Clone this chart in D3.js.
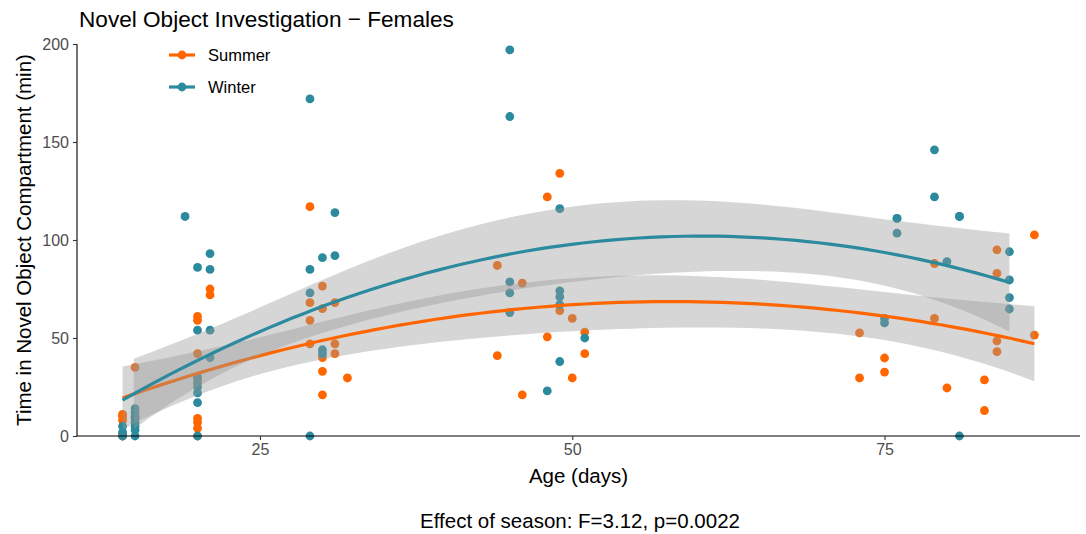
<!DOCTYPE html>
<html><head><meta charset="utf-8">
<script src="https://cdn.jsdelivr.net/npm/d3@7"></script>
<style>
body{margin:0;background:#fff}
text{font-family:"Liberation Sans",Arial,Helvetica,sans-serif}
</style>
</head><body>
<svg id="chart" width="1086" height="534"></svg>
<script>
// ---- data (overlapping/hidden points estimated) ----
const seasons = ["Summer", "Winter"];
const seasonColors = ["#ff6600", "#2b8a9e"];

const summerAge  = [14,14,14,14,14,14, 15, 20,20,20,20,20,20,20,20, 21,21, 29,29,29,29, 30,30,30,30,30, 31,31,31, 32,
                    44,44, 46,46, 48,48, 49,49, 50,50, 51,51, 73,73, 75,75, 79,79, 80, 83,83, 84,84,84,84, 87,87];
const summerTime = [11,10,8,1,0,0, 35, 61,59,42,29,9,7,4,0, 75,72, 117,68,59,47, 76.5,65,40,33,21, 68,47,42, 29.6,
                    87,41, 78,21, 122,50.6, 134,64, 60,29.6, 53,42, 52.6,29.6, 39.8,32.6, 88,60, 24.5, 28.6,13, 95,83,48.5,43, 102.6,51.5];

const winterAge  = [14,14,14, 15,15,15,15,15,15,15,15, 19, 20,20,20,20,20,20,20,20, 21,21,21,21, 29,29,29,29, 30,30,30, 31,31,
                    45,45,45,45,45, 48, 49,49,49,49,49, 51, 75,75, 76,76,76, 79,79, 80, 81,81,81, 85,85,85,85];
const winterTime = [5,2,0, 14,12,10,9,7,5,3,0, 112, 86,54,30,27,25,22,17,0, 93,85,54,40, 172,85,73,0, 91,44,42, 114,92,
                    197,163,78.6,73,63, 23, 116,74,71,67,38, 50, 60,57.7, 111,111,103.5, 146,122, 89, 112,112,0, 94,79.6,70.6,64.8];

const xTicks = [25, 50, 75];
const yTicks = [0, 50, 100, 150, 200];
const titleText = "Novel Object Investigation \u2212 Females";
const xTitle = "Age (days)";
const yTitle = "Time in Novel Object Compartment (min)";
const captionText = "Effect of season: F=3.12, p=0.0022";

// ---- layout ----
const svg = d3.select("#chart");
const padL = 77, padR = 1080, padT = 44, padB = 436;
const allAge = summerAge.concat(winterAge);
const xMin = d3.min(allAge), xMax = d3.max(allAge), xPad = (xMax - xMin) * 0.05;
const x = d3.scaleLinear().domain([xMin - xPad, xMax + xPad]).range([padL, padR]);
const y = d3.scaleLinear().domain([0, 200]).range([padB, padT]);

const groups = [
  {name: seasons[0], color: seasonColors[0], pts: summerAge.map((a, i) => ({x: a, y: summerTime[i]}))},
  {name: seasons[1], color: seasonColors[1], pts: winterAge.map((a, i) => ({x: a, y: winterTime[i]}))}
];

// ---- quadratic lm fit with 95% CI (like geom_smooth(method="lm", formula=y~poly(x,2))) ----
function inv3(m) {
  const [a,b,c,d,e,f,g,h,k] = [m[0][0],m[0][1],m[0][2],m[1][0],m[1][1],m[1][2],m[2][0],m[2][1],m[2][2]];
  const A = e*k - f*h, B = -(d*k - f*g), C = d*h - e*g;
  const det = a*A + b*B + c*C;
  return [
    [A/det, -(b*k - c*h)/det, (b*f - c*e)/det],
    [B/det, (a*k - c*g)/det, -(a*f - c*d)/det],
    [C/det, -(a*h - b*g)/det, (a*e - b*d)/det]
  ];
}
function tQuant(df) {
  const z = 1.959963985;
  return z + (z**3 + z)/(4*df) + (5*z**5 + 16*z**3 + 3*z)/(96*df*df) + (3*z**7 + 19*z**5 + 17*z**3 - 15*z)/(384*df**3);
}
function fitQuad(pts) {
  const n = pts.length, mx = d3.mean(pts, p => p.x);
  const row = xv => [1, xv - mx, (xv - mx) ** 2];
  const XtX = [[0,0,0],[0,0,0],[0,0,0]], Xty = [0,0,0];
  pts.forEach(p => { const r = row(p.x); for (let i=0;i<3;i++){ Xty[i]+=r[i]*p.y; for(let j=0;j<3;j++) XtX[i][j]+=r[i]*r[j]; } });
  const inv = inv3(XtX);
  const beta = inv.map(r => r[0]*Xty[0] + r[1]*Xty[1] + r[2]*Xty[2]);
  const pred = xv => { const r = row(xv); return beta[0]*r[0] + beta[1]*r[1] + beta[2]*r[2]; };
  const rss = d3.sum(pts, p => (p.y - pred(p.x)) ** 2);
  const s2 = rss / (n - 3), t = tQuant(n - 3);
  const lo = d3.min(pts, p => p.x), hi = d3.max(pts, p => p.x);
  const out = [];
  for (let i = 0; i < 80; i++) {
    const xv = lo + (hi - lo) * i / 79, r = row(xv);
    let q = 0; for (let a=0;a<3;a++) for (let b=0;b<3;b++) q += r[a]*inv[a][b]*r[b];
    const f = pred(xv), se = Math.sqrt(s2 * q);
    out.push({x: xv, y: f, lo: f - t*se, hi: f + t*se});
  }
  return out;
}

// ---- points (under the ribbons, as in ggplot layer order) ----
const pointsG = svg.append("g");
groups.forEach(g => {
  pointsG.selectAll(null).data(g.pts).join("circle")
    .attr("cx", d => x(d.x)).attr("cy", d => y(d.y)).attr("r", 4.4)
    .attr("fill", g.color);
});

// ---- smooths ----
const inRange = v => v >= 0 && v <= 200;
const area = d3.area().defined(d => inRange(d.lo) && inRange(d.hi))
  .x(d => x(d.x)).y0(d => y(d.lo)).y1(d => y(d.hi));
const line = d3.line().x(d => x(d.x)).y(d => y(d.y));
const smoothG = svg.append("g");
groups.forEach(g => {
  const fit = fitQuad(g.pts);
  smoothG.append("path").attr("d", area(fit)).attr("fill", "#999999").attr("fill-opacity", 0.4);
  smoothG.append("path").attr("d", line(fit)).attr("fill", "none").attr("stroke", g.color).attr("stroke-width", 3.2);
});

// ---- axes ----
const xAxis = svg.append("g").attr("transform", `translate(0,${padB})`)
  .call(d3.axisBottom(x).tickValues(xTicks).tickSize(4).tickPadding(4));
const yAxis = svg.append("g").attr("transform", `translate(${padL},0)`)
  .call(d3.axisLeft(y).tickValues(yTicks).tickSize(4).tickPadding(4));
xAxis.select(".domain").attr("d", `M${padL},0H${padR}`).attr("stroke", "#000").attr("stroke-width", 1.1);
yAxis.select(".domain").attr("d", `M0,${padT}V${padB}`).attr("stroke", "#000").attr("stroke-width", 1.1);
[xAxis, yAxis].forEach(a => {
  a.selectAll(".tick line").attr("stroke", "#333").attr("stroke-width", 1.1);
  a.selectAll(".tick text").attr("fill", "#4d4d4d").style("font-size", "16px")
    .style("font-family", '"Liberation Sans",Arial,sans-serif');
});

// ---- titles ----
svg.append("text").attr("x", 79).attr("y", 27).text(titleText)
  .style("font-size", "22.6px").attr("fill", "#000");
svg.append("text").attr("x", (padL + padR) / 2).attr("y", 483).attr("text-anchor", "middle")
  .text(xTitle).style("font-size", "20.5px").attr("fill", "#000");
svg.append("text").attr("transform", `translate(31,${(padT + padB) / 2}) rotate(-90)`)
  .attr("text-anchor", "middle").text(yTitle).style("font-size", "20.5px").attr("fill", "#000");
svg.append("text").attr("x", 580).attr("y", 528).attr("text-anchor", "middle")
  .text(captionText).style("font-size", "20.5px").attr("fill", "#000");

// ---- legend ----
const legend = svg.append("g");
groups.forEach((g, i) => {
  const ly = 55 + i * 32;
  legend.append("line").attr("x1", 169).attr("x2", 195).attr("y1", ly).attr("y2", ly)
    .attr("stroke", g.color).attr("stroke-width", 3.2);
  legend.append("circle").attr("cx", 182).attr("cy", ly).attr("r", 4.4).attr("fill", g.color);
  legend.append("text").attr("x", 208).attr("y", ly + 6).text(g.name)
    .style("font-size", "16.5px").attr("fill", "#000");
});
</script>
</body></html>
